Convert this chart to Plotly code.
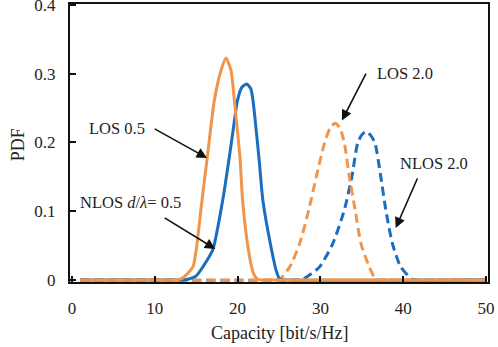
import plotly.graph_objects as go

# ---- data ----
los05_x = [1, 6, 12.5, 13.0, 13.5, 14.6, 15.0, 15.7, 16.3, 17.2, 18.0, 18.6, 19.2, 19.6, 20.3, 20.6, 21.3, 21.9, 22.4, 23.0, 30, 50]
los05_y = [0, 0, 0, 0.001, 0.004, 0.019, 0.044, 0.116, 0.175, 0.262, 0.305, 0.323, 0.305, 0.262, 0.175, 0.116, 0.044, 0.010, 0.001, 0, 0, 0]

nlos05_x = [1, 6, 13.5, 14.0, 15.0, 15.8, 17.0, 18.2, 18.95, 19.4, 20.0, 20.5, 21.1, 21.6, 21.85, 22.6, 23.05, 24.1, 24.7, 25.1, 26, 50]
nlos05_y = [0, 0, 0, 0.001, 0.006, 0.019, 0.044, 0.116, 0.175, 0.213, 0.262, 0.280, 0.285, 0.278, 0.262, 0.175, 0.116, 0.044, 0.012, 0.001, 0, 0]

los20_x = [1, 6, 24.5, 25.1, 26.3, 27.5, 28.6, 29.5, 30.5, 31.2, 31.8, 32.4, 32.9, 33.5, 34.2, 34.9, 35.9, 36.7, 37.5, 50]
los20_y = [0, 0, 0, 0.001, 0.019, 0.053, 0.102, 0.150, 0.199, 0.222, 0.228, 0.220, 0.199, 0.150, 0.102, 0.053, 0.019, 0.001, 0, 0]

nlos20_x = [1, 6, 27.2, 27.9, 29.9, 31.5, 32.9, 33.8, 34.5, 35.0, 35.5, 36.1, 36.6, 37.3, 37.9, 38.7, 39.7, 41.1, 42, 50]
nlos20_y = [0, 0, 0, 0.001, 0.019, 0.053, 0.102, 0.150, 0.199, 0.211, 0.216, 0.210, 0.199, 0.150, 0.102, 0.053, 0.019, 0.001, 0, 0]

x_ticks = [0, 10, 20, 30, 40, 50]
y_ticks = [0, 0.1, 0.2, 0.3, 0.4]
y_ticktext = ["0", "0.1", "0.2", "0.3", "0.4"]
x_title = "Capacity [bit/s/Hz]"
y_title = "PDF"

ORANGE = "#F0954B"
BLUE = "#1A6DBF"
FRAME = "#111111"
FONT = "Liberation Serif"

fig = go.Figure()

fig.add_trace(go.Scatter(x=nlos20_x, y=nlos20_y, mode="lines",
                         line=dict(color=BLUE, width=3, dash="9px,5px", shape="spline", smoothing=0.6)))
fig.add_trace(go.Scatter(x=los20_x, y=los20_y, mode="lines",
                         line=dict(color=ORANGE, width=3, dash="9px,5px", shape="spline", smoothing=0.6)))
fig.add_trace(go.Scatter(x=nlos05_x, y=nlos05_y, mode="lines",
                         line=dict(color=BLUE, width=3, shape="spline", smoothing=0.6)))
fig.add_trace(go.Scatter(x=los05_x, y=los05_y, mode="lines",
                         line=dict(color=ORANGE, width=3, shape="spline", smoothing=0.6)))

lfont = dict(family=FONT, size=16.5, color="#222")
tkfont = dict(family=FONT, size=17, color="#222")
ttfont = dict(family=FONT, size=18, color="#222")

labels = [
    ("LOS 2.0", 36.6, 0.301),
    ("LOS 0.5", 1.8, 0.221),
    ("NLOS 2.0", 39.4, 0.170),
    ("NLOS <i>d</i>/<i>λ</i>= 0.5", 0.7, 0.113),
]
for txt, xx, yy in labels:
    fig.add_annotation(x=xx, y=yy, xref="x", yref="y", text=txt, showarrow=False,
                       xanchor="left", yanchor="middle", font=lfont)

arrows = [
    (35.6, 0.3025, 32.6, 0.232),
    (9.8, 0.221, 16.3, 0.1775),
    (41.8, 0.1498, 39.1, 0.0756),
    (11.0, 0.0916, 17.3, 0.0451),
]
for ax_, ay_, hx, hy in arrows:
    fig.add_annotation(x=hx, y=hy, xref="x", yref="y", ax=ax_, ay=ay_, axref="x", ayref="y",
                       text="", showarrow=True, arrowhead=2, arrowsize=1.3, arrowwidth=1.6,
                       arrowcolor="#111", standoff=0, startstandoff=0)

fig.add_annotation(x=25, y=0, xref="x", yref="paper", yanchor="middle", yshift=-51,
                   text=x_title, showarrow=False, font=ttfont)
fig.add_annotation(x=0, y=0.196, xref="paper", yref="y", xanchor="center", xshift=-52,
                   text=y_title, showarrow=False, textangle=-90, font=ttfont)

fig.update_layout(
    width=498, height=347,
    margin=dict(l=70, r=10, t=4, b=65),
    paper_bgcolor="white", plot_bgcolor="white",
    showlegend=False,
    font=dict(family=FONT, size=16, color="#222"),
)
fig.update_xaxes(range=[-0.25, 50.25], tickvals=x_ticks, ticktext=[str(v) for v in x_ticks],
                 ticks="inside", ticklen=6, tickwidth=1.5, tickcolor=FRAME,
                 showline=True, mirror=True, linecolor=FRAME, linewidth=2,
                 showgrid=False, zeroline=False, ticklabelstandoff=10,
                 automargin=False, tickfont=tkfont)
fig.update_yaxes(range=[-0.003, 0.4015], tickvals=y_ticks, ticktext=y_ticktext,
                 ticks="inside", ticklen=6, tickwidth=1.5, tickcolor=FRAME,
                 showline=True, mirror=True, linecolor=FRAME, linewidth=2,
                 showgrid=False, zeroline=False, ticklabelstandoff=9,
                 ticklabeloverflow="allow", automargin=False, tickfont=tkfont)

fig.write_html("out.html")
